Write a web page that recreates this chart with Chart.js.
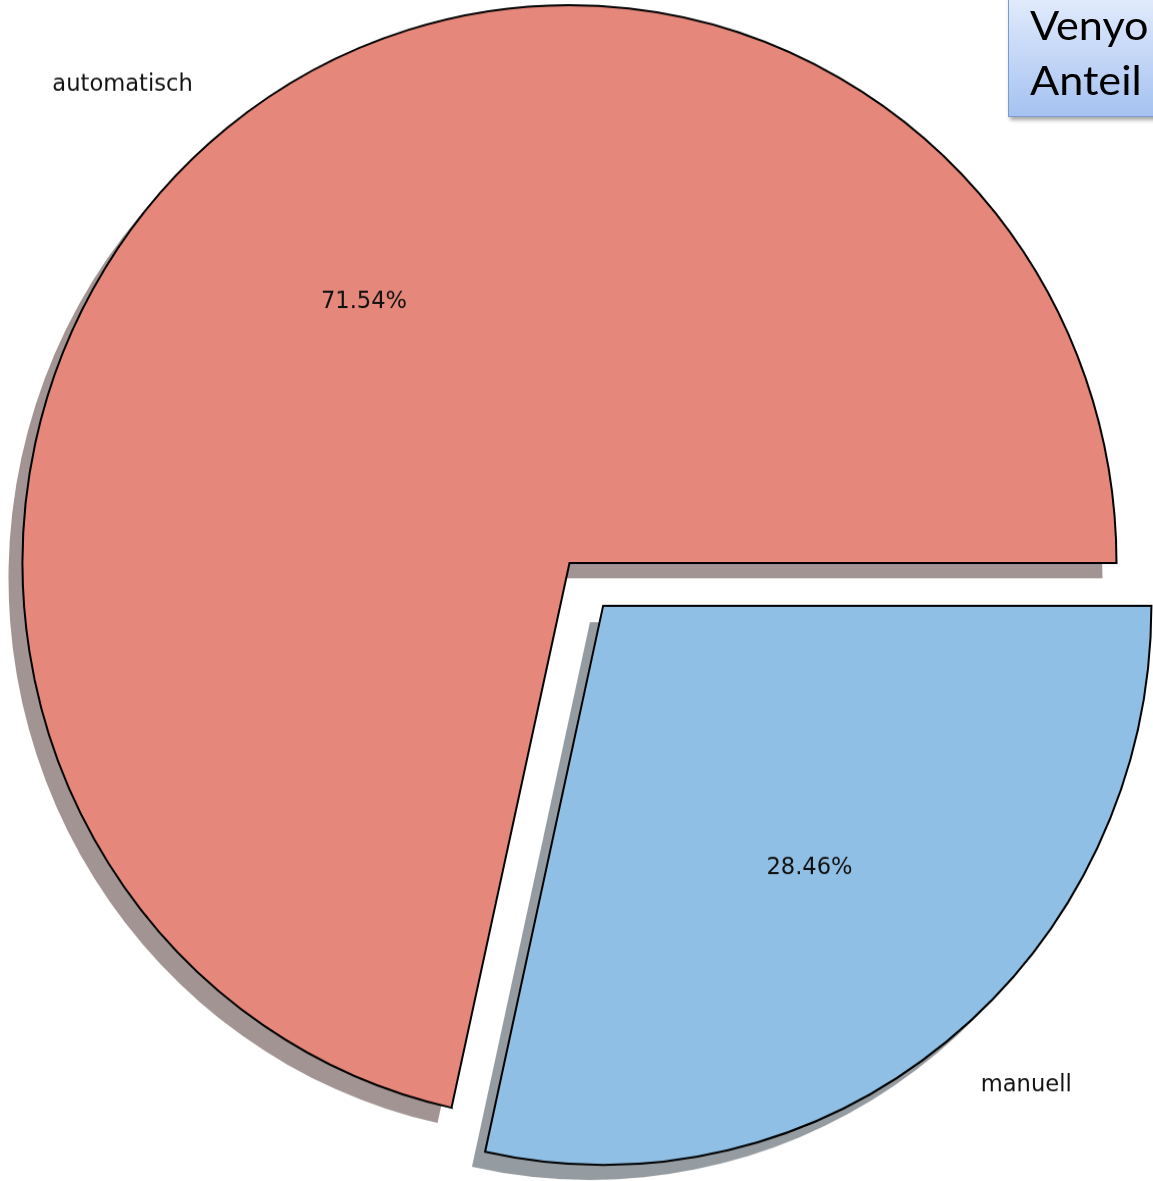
<!DOCTYPE html>
<html>
<head>
  <meta charset="utf-8">
  <title>Venyo Anteil</title>
  <script src="https://cdn.jsdelivr.net/npm/chart.js@4.4.0/dist/chart.umd.min.js"></script>
  <style>
    html, body { margin:0; padding:0; background:#fff; overflow:hidden; }
    #chartCtn {
      position:absolute; left:0; top:0;
      width:1153px; height:1158px;
      transform:scaleY(1.0199); transform-origin:0 0;
    }
    #titleBox {
      position:absolute; left:1008px; top:-6px;
      width:180px; height:123px; box-sizing:border-box;
      border:1.5px solid #7a9bcb;
      background:linear-gradient(#e3ecfc, #a5c2f1);
      box-shadow:2px 3px 4px rgba(0,0,0,0.35);
      color:#000;
    }
    #titleBox span {
      display:block; position:absolute; left:21px;
      font-family:Lato, "Open Sans", sans-serif;
      font-size:40px; line-height:54px;
      transform:scaleX(1.08); transform-origin:0 0;
      white-space:nowrap;
    }
  </style>
</head>
<body>

  <div id="chartCtn"><canvas id="pieEl" width="1153" height="1158"></canvas></div>
  <div id="titleBox"><span style="top:3px;">Venyo</span><span style="top:58px;">Anteil</span></div>

  <script>
    const categories = ['automatisch', 'manuell'];
    const shares = [71.54, 28.46];
    const fillColors = ['#e5877b', '#8fbfe4'];
    const explodePx = [0, 55];

    const total = shares.reduce((a, v) => a + v, 0);
    const radius = 547;
    const shadowDx = -14, shadowDy = 15;

    // matplotlib style shadow: 30% of face colour at half alpha
    function shadowOf(hex) {
      let r = parseInt(hex.slice(1, 3), 16), g = parseInt(hex.slice(3, 5), 16), b = parseInt(hex.slice(5, 7), 16);
      return `rgba(${Math.round(r*0.3)}, ${Math.round(g*0.3)}, ${Math.round(b*0.3)}, 0.5)`;
    }

    // chart.js moves an arc by offset/4 * (1 + fix), undo that so explodePx is in pixels
    let offsets = shares.map((v, i) => {
      let circ = 2 * Math.PI * v / total;
      let fix = 1 - Math.sin(Math.min(Math.PI, circ));
      return explodePx[i] * 4 / (1 + fix);
    });

    function arcCenter(arc) {
      let off = (arc.options.offset || 0) / 4;
      let circ = arc.endAngle - arc.startAngle;
      let fix = 1 - Math.sin(Math.min(Math.PI, circ));
      let t = off * (1 + fix);
      let mid = (arc.startAngle + arc.endAngle) / 2;
      return { x: arc.x + Math.cos(mid) * t, y: arc.y + Math.sin(mid) * t, mid };
    }

    const shadowPlugin = {
      id: 'wedgeShadow',
      beforeDatasetsDraw(chart) {
        let ctx = chart.ctx;
        chart.getDatasetMeta(0).data.forEach((arc, i) => {
          let c = arcCenter(arc);
          ctx.save();
          ctx.beginPath();
          ctx.moveTo(c.x + shadowDx, c.y + shadowDy);
          ctx.arc(c.x + shadowDx, c.y + shadowDy, arc.outerRadius, arc.startAngle, arc.endAngle);
          ctx.closePath();
          ctx.fillStyle = shadowOf(fillColors[i]);
          ctx.fill();
          ctx.restore();
        });
      }
    };

    const labelPlugin = {
      id: 'wedgeLabels',
      afterDatasetsDraw(chart) {
        let ctx = chart.ctx;
        ctx.save();
        ctx.font = '22.6px "DejaVu Sans"';
        ctx.fillStyle = '#111';
        ctx.textBaseline = 'middle';
        chart.getDatasetMeta(0).data.forEach((arc, i) => {
          let c = arcCenter(arc);
          let r = arc.outerRadius;
          let cos = Math.cos(c.mid), sin = Math.sin(c.mid);
          ctx.textAlign = cos >= 0 ? 'left' : 'right';
          ctx.fillText(categories[i], c.x + 1.1 * r * cos, c.y + 1.1 * r * sin);
          ctx.textAlign = 'center';
          ctx.fillText((shares[i] / total * 100).toFixed(2) + '%', c.x + 0.6 * r * cos, c.y + 0.6 * r * sin);
        });
        ctx.restore();
      }
    };

    new Chart(pieEl, {
      type: 'pie',
      plugins: [shadowPlugin, labelPlugin],
      data: {
        labels: categories,
        datasets: [{
          data: shares,
          backgroundColor: fillColors,
          borderColor: '#000',
          borderWidth: 2,
          borderJoinStyle: 'miter',
          offset: offsets,
          hoverOffset: 0
        }]
      },
      options: {
        responsive: false,
        animation: false,
        events: [],
        rotation: 90 + 360 * shares[1] / total,
        radius: radius,
        layout: { padding: { left: 0, right: 14, top: 0, bottom: 54 } },
        plugins: {
          legend: { display: false },
          tooltip: { enabled: false }
        }
      }
    });
  </script>
</body>
</html>
